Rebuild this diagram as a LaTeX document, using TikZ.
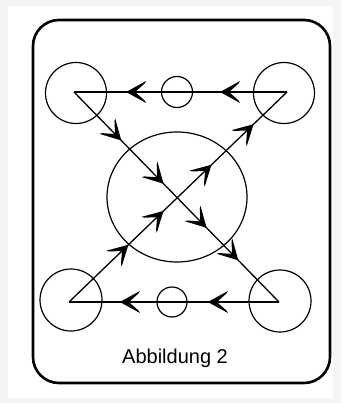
\documentclass[tikz,border=0pt]{standalone}
\usepackage{fontspec}
\setmainfont{Liberation Sans}
\usetikzlibrary{decorations.markings,shapes.geometric}
\definecolor{pagegray}{HTML}{F4F4F4}
\newcommand{\chevtip}{\fill[black] (2pt,0pt) -- (-18pt,11pt) -- (-16.5pt,8.5pt) -- (-7pt,0pt) -- (-16.5pt,-8.5pt) -- (-18pt,-11pt) -- cycle;}
\tikzset{
  ring/.style={draw, circle, line width=1.2pt, inner sep=0pt, minimum size=#1},
  link/.style={line width=1.3pt},
  hlink/.style={line width=1.9pt},
  tip at/.style={postaction={decorate, decoration={markings, mark=at position #1 with {\chevtip}}}},
  frame/.style={draw, line width=2.6pt, rounded corners=26pt},
}
\begin{document}
\begin{tikzpicture}[x=1pt,y=-1pt]
\useasboundingbox (0,0) rectangle (341,403);
\fill[pagegray] (0,0) rectangle (341,403);
\fill[white] (8,6) rectangle (333,398);
\draw[frame] (33,20) rectangle (330,383);
% circles
\node[ring=61pt] (ctl) at (76,93) {};
\node[ring=61pt] (ctr) at (284,93) {};
\node[ring=62pt] (cbl) at (71,300) {};
\node[ring=62pt] (cbr) at (280,301) {};
\node[ring=31pt] (cst) at (177,92) {};
\node[ring=30pt] (csb) at (172,302) {};
\node[draw, ellipse, line width=1.2pt, inner sep=0pt, minimum width=140pt, minimum height=130pt] (big) at (177,197) {};
% apexes
\coordinate (tl) at (74,92);
\coordinate (tr) at (287,92);
\coordinate (bl) at (69,302);
\coordinate (br) at (279,302);
% connectors
\draw[hlink, tip at=0.305, tip at=0.746] (tr) -- (tl);
\draw[hlink, tip at=0.329, tip at=0.748] (br) -- (bl);
\draw[link, tip at=0.224, tip at=0.43, tip at=0.64, tip at=0.795] (tl) -- (br);
\draw[link, tip at=0.266, tip at=0.427, tip at=0.647, tip at=0.84] (bl) -- (tr);
\node[font=\fontsize{20pt}{24pt}\selectfont] (cap) at (175,358) {Abbildung 2};
\end{tikzpicture}
\end{document}
